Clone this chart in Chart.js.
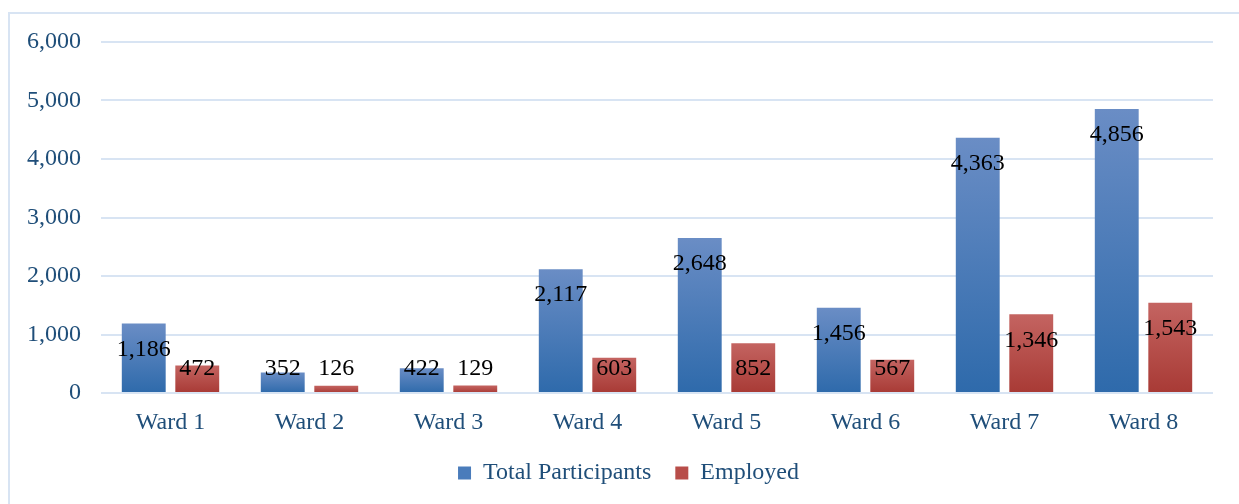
<!DOCTYPE html>
<html>
<head>
<meta charset="utf-8">
<script src="https://cdn.jsdelivr.net/npm/chart.js@4/dist/chart.umd.min.js"></script>
<style>
  html, body { margin: 0; padding: 0; background: #fff; overflow: hidden; width: 1239px; height: 504px; }
  #frame { position: absolute; left: 8px; top: 12px; width: 1300px; height: 600px; border: 2px solid #D8E4F3; box-sizing: border-box; }
  #c { position: absolute; left: 0; top: 0; }
</style>
</head>
<body>
<div id="frame"></div>
<canvas id="c" width="1239" height="504"></canvas>
<script>
const categories = ['Ward 1', 'Ward 2', 'Ward 3', 'Ward 4', 'Ward 5', 'Ward 6', 'Ward 7', 'Ward 8'];
const totalParticipants = [1186, 352, 422, 2117, 2648, 1456, 4363, 4856];
const employed = [472, 126, 129, 603, 852, 567, 1346, 1543];
const seriesNames = ['Total Participants', 'Employed'];
const yTicks = [0, 1000, 2000, 3000, 4000, 5000, 6000];

const FONT = "'Liberation Serif', 'Times New Roman', serif";
const FS = 24;
const TEXT_BLUE = '#1F4E79';
const GRID = '#D8E4F3';

function gradientFor(top, bottom) {
  return function (ctx) {
    const chart = ctx.chart;
    if (!chart.chartArea || !chart.scales.y || ctx.parsed === undefined) return bottom;
    const y = chart.scales.y;
    const y1 = y.getPixelForValue(ctx.parsed.y);
    const y0 = y.getPixelForValue(0);
    if (!isFinite(y1) || !isFinite(y0) || y0 === y1) return bottom;
    const g = chart.ctx.createLinearGradient(0, y1, 0, y0);
    g.addColorStop(0, top);
    g.addColorStop(1, bottom);
    return g;
  };
}

const fmt = v => Number(v).toLocaleString('en-US');

const dataLabels = {
  id: 'dataLabels',
  afterDatasetsDraw(chart) {
    const ctx = chart.ctx;
    const y0 = chart.scales.y.getPixelForValue(0);
    ctx.save();
    ctx.font = FS + 'px ' + FONT;
    ctx.fillStyle = '#000';
    ctx.textAlign = 'center';
    ctx.textBaseline = 'middle';
    chart.data.datasets.forEach((ds, di) => {
      const meta = chart.getDatasetMeta(di);
      meta.data.forEach((el, i) => {
        const y = Math.min(el.y + 26, y0 - 24);
        ctx.fillText(fmt(ds.data[i]), el.x, y);
      });
    });
    ctx.restore();
  }
};

const legendShift = {
  id: 'legendShift',
  afterLayout(chart) {
    if (chart.legend) {
      chart.legend.left += 22;
      chart.legend.right += 22;
    }
  }
};

new Chart(document.getElementById('c'), {
  type: 'bar',
  data: {
    labels: categories,
    datasets: [
      { label: seriesNames[0], data: totalParticipants, backgroundColor: gradientFor('#6A8DC5', '#2E6AAB'), legendColor: '#4A7CBB', categoryPercentage: 0.77, barPercentage: 0.82 },
      { label: seriesNames[1], data: employed, backgroundColor: gradientFor('#C46461', '#A83A35'), legendColor: '#B84D49', categoryPercentage: 0.77, barPercentage: 0.82 }
    ]
  },
  options: {
    responsive: false,
    animation: false,
    layout: { padding: { left: 0, right: 26, top: 42, bottom: 9 } },
    plugins: {
      tooltip: { enabled: false },
      legend: {
        position: 'bottom',
        labels: {
          font: { family: FONT, size: FS },
          color: TEXT_BLUE,
          boxWidth: 13,
          boxHeight: 13,
          padding: 24,
          generateLabels(chart) {
            return chart.data.datasets.map((ds, i) => ({
              text: ds.label,
              fillStyle: ds.legendColor,
              strokeStyle: ds.legendColor,
              lineWidth: 0,
              fontColor: TEXT_BLUE,
              datasetIndex: i,
              hidden: false
            }));
          }
        }
      }
    },
    scales: {
      x: {
        grid: { display: false, drawTicks: false },
        border: { display: false },
        ticks: { font: { family: FONT, size: FS }, color: TEXT_BLUE, padding: 15 },
        afterFit(scale) { scale.height = 44; }
      },
      y: {
        min: 0,
        max: 6000,
        afterBuildTicks(scale) { scale.ticks = yTicks.map(v => ({ value: v })); },
        grid: { color: GRID, lineWidth: 2, drawTicks: false },
        border: { display: false },
        ticks: { font: { family: FONT, size: FS }, color: TEXT_BLUE, padding: 20, callback: v => fmt(v) },
        afterFit(scale) { scale.width = 101; }
      }
    }
  },
  plugins: [dataLabels, legendShift]
});
</script>
</body>
</html>
